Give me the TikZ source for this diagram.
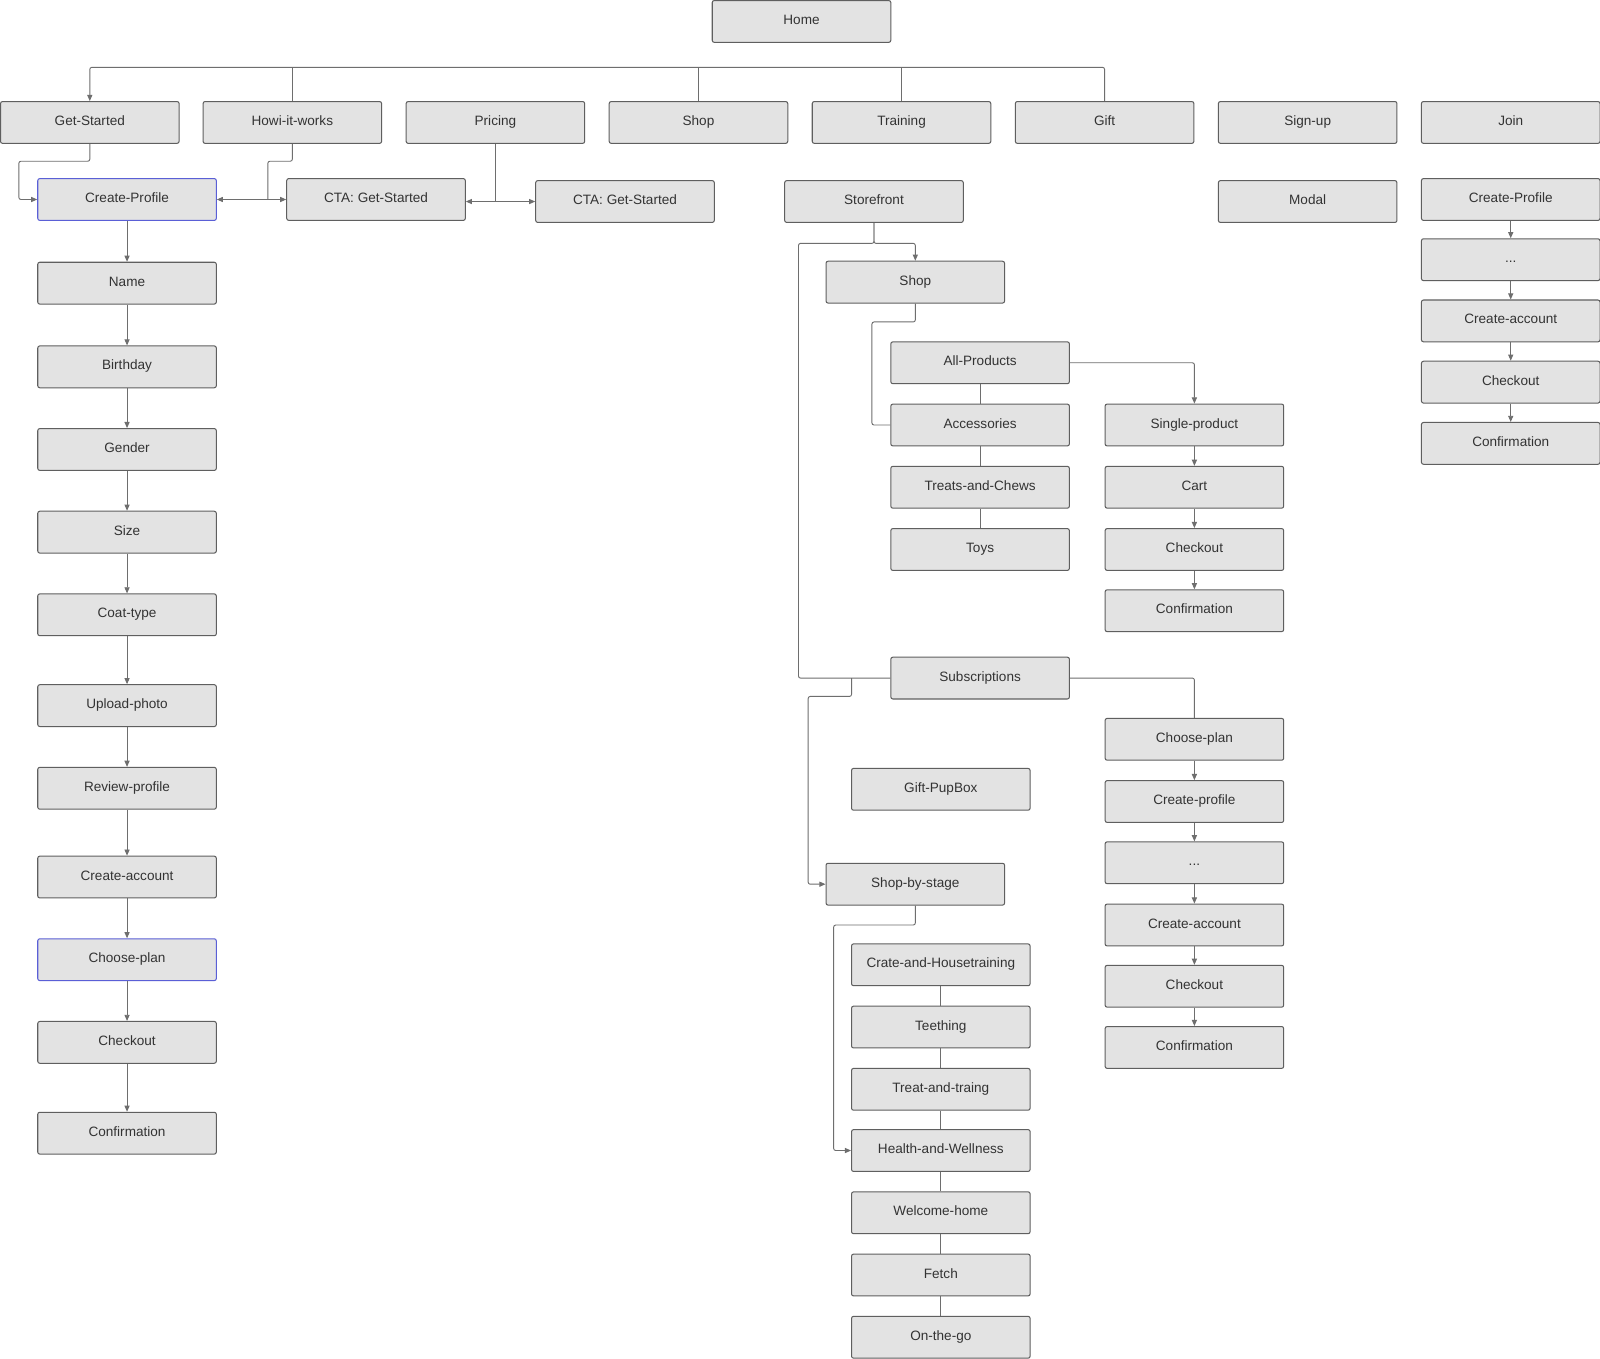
\documentclass[tikz,border=0pt]{standalone}
\usepackage{fontspec}
\setmainfont{Liberation Sans}
\usetikzlibrary{arrows.meta}
\definecolor{boxfill}{HTML}{E3E3E3}
\definecolor{boxline}{HTML}{5F5F5F}
\definecolor{conline}{HTML}{6E6E6E}
\definecolor{txt}{HTML}{333333}
\definecolor{blueline}{HTML}{5A5FD6}
\tikzset{
  pbox/.style={rectangle, rounded corners=2pt, draw=boxline, line width=1pt, fill=boxfill,
    minimum width=175pt, minimum height=41pt, inner sep=0pt, text=txt,
    text height=10pt, text depth=4pt,
    font=\fontsize{13.3}{16}\selectfont},
  bluebox/.style={pbox, draw=blueline},
  con/.style={draw=conline, line width=0.9pt, rounded corners=2pt},
  arr/.style={con, -{Triangle[length=6pt,width=5pt]}},
  arrboth/.style={con, {Triangle[length=6pt,width=5pt]}-{Triangle[length=6pt,width=5pt]}},
}
\begin{document}
\begin{tikzpicture}[x=1pt,y=-1pt]
\useasboundingbox[fill=white] (0,0) rectangle (1568,1331);
% top
\node[pbox] (home) at (785.5,21) {Home};
\node[pbox] (gs) at (88,120) {Get-Started};
\node[pbox] (how) at (286.5,120) {Howi-it-works};
\node[pbox] (pr) at (485.5,120) {Pricing};
\node[pbox] (shop) at (684.5,120) {Shop};
\node[pbox] (tr) at (883.5,120) {Training};
\node[pbox] (gift) at (1082.5,120) {Gift};
\node[pbox] (su) at (1281.5,120) {Sign-up};
\node[pbox] (join) at (1480.5,120) {Join};
% second row
\node[bluebox] (cp) at (124.5,195.5) {Create-Profile};
\node[pbox] (cta1) at (368.5,195.5) {CTA: Get-Started};
\node[pbox] (cta2) at (612.5,197.5) {CTA: Get-Started};
\node[pbox] (sf) at (856.5,197.5) {Storefront};
\node[pbox] (modal) at (1281.5,197.5) {Modal};
% left column
\node[pbox] (name) at (124.5,277.5) {Name};
\node[pbox] (bday) at (124.5,359.5) {Birthday};
\node[pbox] (gender) at (124.5,440.5) {Gender};
\node[pbox] (size) at (124.5,521.5) {Size};
\node[pbox] (coat) at (124.5,602.5) {Coat-type};
\node[pbox] (upload) at (124.5,691.5) {Upload-photo};
\node[pbox] (review) at (124.5,772.5) {Review-profile};
\node[pbox] (lca) at (124.5,859.5) {Create-account};
\node[bluebox] (lcp) at (124.5,940.5) {Choose-plan};
\node[pbox] (lco) at (124.5,1021.5) {Checkout};
\node[pbox] (lconf) at (124.5,1110.5) {Confirmation};
% storefront tree
\node[pbox] (shop2) at (897,276.5) {Shop};
\node[pbox] (ap) at (960.5,355.5) {All-Products};
\node[pbox] (acc) at (960.5,416.5) {Accessories};
\node[pbox] (treats) at (960.5,477.5) {Treats-and-Chews};
\node[pbox] (toys) at (960.5,538.5) {Toys};
\node[pbox] (single) at (1170.5,416.5) {Single-product};
\node[pbox] (cart) at (1170.5,477.5) {Cart};
\node[pbox] (sco) at (1170.5,538.5) {Checkout};
\node[pbox] (sconf) at (1170.5,598.5) {Confirmation};
\node[pbox] (subs) at (960.5,664.5) {Subscriptions};
\node[pbox] (rcp) at (1170.5,724.5) {Choose-plan};
\node[pbox] (rcpr) at (1170.5,785.5) {Create-profile};
\node[pbox] (rdots) at (1170.5,845.5) {...};
\node[pbox] (rca) at (1170.5,906.5) {Create-account};
\node[pbox] (rco) at (1170.5,966.5) {Checkout};
\node[pbox] (rconf) at (1170.5,1026.5) {Confirmation};
\node[pbox] (gpb) at (922,773.5) {Gift-PupBox};
\node[pbox] (sbs) at (897,866.5) {Shop-by-stage};
\node[pbox] (crate) at (922,945.5) {Crate-and-Housetraining};
\node[pbox] (teeth) at (922,1006.5) {Teething};
\node[pbox] (treat) at (922,1067.5) {Treat-and-traing};
\node[pbox] (hw) at (922,1127.5) {Health-and-Wellness};
\node[pbox] (wh) at (922,1188.5) {Welcome-home};
\node[pbox] (fetch) at (922,1249.5) {Fetch};
\node[pbox] (otg) at (922,1310.5) {On-the-go};
% join column
\node[pbox] (jcp) at (1480.5,195.5) {Create-Profile};
\node[pbox] (jdots) at (1480.5,254.5) {...};
\node[pbox] (jca) at (1480.5,314.5) {Create-account};
\node[pbox] (jco) at (1480.5,374.5) {Checkout};
\node[pbox] (jconf) at (1480.5,434.5) {Confirmation};

% bus
\draw[arr] (gift.north) -- ++(0,-33) -| (gs.north);
\draw[con] (how.north) -- ++(0,-33);
\draw[con] (shop.north) -- ++(0,-33);
\draw[con] (tr.north) -- ++(0,-33);
% second row connectors
\draw[arr] (gs.south) -- ++(0,17) -| ([xshift=-18pt]cp.west) -- (cp.west);
\draw[arrboth] (cp.east) -- (cta1.west);
\draw[con] (how.south) -- ++(0,17) -| ([xshift=-18pt]cta1.west);
\draw[con] (pr.south) -- (pr.south |- cta2.west);
\draw[arrboth] (cta1.east |- cta2.west) -- (cta2.west);
% left column
\foreach \a/\b in {cp/name,name/bday,bday/gender,gender/size,size/coat,coat/upload,upload/review,review/lca,lca/lcp,lcp/lco,lco/lconf}
  \draw[arr] (\a.south) -- (\b.north);
% storefront
\draw[arr] (sf.south) -- ++(0,20) -| (shop2.north);
\draw[con] (sf.south) -- ++(0,20) -| ([xshift=-90pt]subs.west) -- (subs.west);
\draw[con] (shop2.south) -- ++(0,18) -| ([xshift=-18pt]acc.west) -- (acc.west);
\foreach \a/\b in {ap/acc,acc/treats,treats/toys}
  \draw[con] (\a.south) -- (\b.north);
\draw[arr] (ap.east) -| (single.north);
\foreach \a/\b in {single/cart,cart/sco,sco/sconf}
  \draw[arr] (\a.south) -- (\b.north);
\draw[con] (subs.east) -| (rcp.north);
\foreach \a/\b in {rcp/rcpr,rcpr/rdots,rdots/rca,rca/rco,rco/rconf}
  \draw[arr] (\a.south) -- (\b.north);
\draw[arr] ([xshift=-38pt]subs.west) -- ++(0,18) -| ([xshift=-17pt]sbs.west) -- (sbs.west);
\draw[arr] (sbs.south) -- ++(0,19) -| ([xshift=-17pt]hw.west) -- (hw.west);
\foreach \a/\b in {crate/teeth,teeth/treat,treat/hw,hw/wh,wh/fetch,fetch/otg}
  \draw[con] (\a.south) -- (\b.north);
% join
\foreach \a/\b in {jcp/jdots,jdots/jca,jca/jco,jco/jconf}
  \draw[arr] (\a.south) -- (\b.north);
\end{tikzpicture}
\end{document}
